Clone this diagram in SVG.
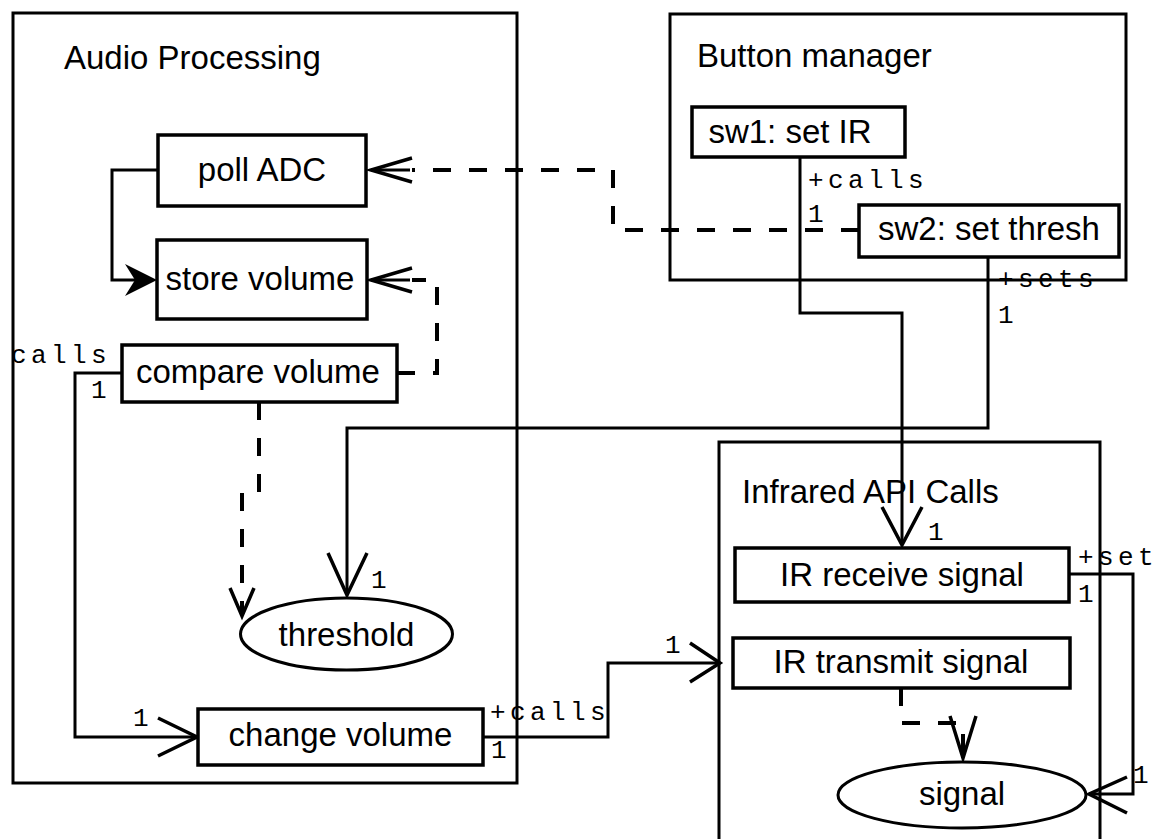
<svg xmlns="http://www.w3.org/2000/svg" width="1167" height="839" viewBox="0 0 1167 839">
<style>
.bg{fill:#fff}
.cont{fill:none;stroke:#000;stroke-width:3}
.node{fill:#fff;stroke:#000;stroke-width:3.5}
.t{font-family:"Liberation Sans",Arial,sans-serif;font-size:33px;fill:#000}
.tm{text-anchor:middle}
.m{font-family:"Liberation Mono","Courier New",monospace;font-size:26px;letter-spacing:4.4px;fill:#000}
.ln{fill:none;stroke:#000;stroke-width:3;stroke-linejoin:miter}
.dl{fill:none;stroke:#000;stroke-width:4;stroke-dasharray:18 18}
.ah{fill:none;stroke:#000;stroke-width:3.5}
</style>
<rect class="bg" x="0" y="0" width="1167" height="839"/>

<g id="audio-processing">
<rect class="cont" x="13" y="13" width="504" height="770"/>
<text class="t" x="64" y="69">Audio Processing</text>
</g>
<g id="button-manager">
<rect class="cont" x="670" y="14" width="456" height="266"/>
<text class="t" x="697" y="67">Button manager</text>
</g>
<g id="infrared-api-calls">
<rect class="cont" x="719" y="442" width="381" height="420"/>
<text class="t" x="742" y="503">Infrared API Calls</text>
</g>

<g id="connectors">
<polyline class="ln" points="158,170 112,170 112,280 150,280"/>
<polygon points="157,280 125,264 135,280 125,296" fill="#000"/>

<polyline class="ln" points="122,373 75,373 75,737 195,737"/>
<polyline class="ah" points="158,718 197,737 158,756"/>

<polyline class="ln" points="483,737 608,737 608,663 718,663"/>
<polyline class="ah" points="690,643 720,663 690,682"/>

<polyline class="ln" points="800,157 800,313 902,313 902,543"/>
<polyline class="ah" points="882,507 902,545 922,507"/>

<polyline class="ln" points="988,257 988,428 347,428 347,593"/>
<polyline class="ah" points="328,553 347,595 367,553"/>

<polyline class="ln" points="1069,574 1133,574 1133,794 1090,794"/>
<polyline class="ah" points="1127,777 1089,794 1127,813"/>

<polyline class="dl" points="859,230 613,230 613,170 412,170"/>
<polyline class="ah" points="412,158 371,170 412,182"/>
<line class="ln" x1="371" y1="170" x2="410" y2="170"/>

<polyline class="dl" points="397,373 437,373 437,280 412,280"/>
<polyline class="ah" points="412,268 371,280 412,292"/>
<line class="ln" x1="371" y1="280" x2="410" y2="280"/>

<polyline class="dl" points="259,402 259,492 242,492 242,612"/>
<polyline class="ah" points="230,588 242,616 254,588"/>

<polyline class="dl" points="901,688 901,723 963,723 963,756"/>
<polyline class="ah" points="950,716 963,758 976,716"/>
</g>

<g id="poll-adc">
<rect class="node" x="158" y="135" width="208" height="71"/>
<text class="t tm" x="262" y="181">poll ADC</text>
</g>
<g id="store-volume">
<rect class="node" x="157" y="240" width="210" height="79"/>
<text class="t tm" x="260" y="290">store volume</text>
</g>
<g id="compare-volume">
<rect class="node" x="122" y="345" width="275" height="57"/>
<text class="t tm" x="258" y="383">compare volume</text>
</g>
<g id="threshold">
<ellipse cx="346.5" cy="634" rx="106" ry="36" fill="#fff" stroke="#000" stroke-width="3"/>
<text class="t tm" x="346.5" y="646">threshold</text>
</g>
<g id="change-volume">
<rect class="node" x="198" y="709" width="285" height="56"/>
<text class="t tm" x="340.5" y="746">change volume</text>
</g>
<g id="sw1-set-ir">
<rect class="node" x="692" y="107" width="213" height="50"/>
<text class="t tm" x="790" y="143">sw1: set IR</text>
</g>
<g id="sw2-set-thresh">
<rect class="node" x="859" y="205" width="260" height="52"/>
<text class="t tm" x="989" y="240">sw2: set thresh</text>
</g>
<g id="ir-receive-signal">
<rect class="node" x="735" y="548" width="334" height="54"/>
<text class="t tm" x="902" y="586">IR receive signal</text>
</g>
<g id="ir-transmit-signal">
<rect class="node" x="733" y="638" width="337" height="50"/>
<text class="t tm" x="901" y="673">IR transmit signal</text>
</g>
<g id="signal">
<ellipse cx="962" cy="795" rx="124" ry="33" fill="#fff" stroke="#000" stroke-width="3"/>
<text class="t tm" x="962" y="805">signal</text>
</g>

<g id="labels">
<text class="m" x="11" y="363">calls</text>
<text class="m" x="91" y="398">1</text>
<text class="m" x="133" y="726">1</text>
<text class="m" x="490" y="720">+calls</text>
<text class="m" x="491" y="758">1</text>
<text class="m" x="665" y="653">1</text>
<text class="m" x="808" y="188">+calls</text>
<text class="m" x="808" y="222">1</text>
<text class="m" x="998" y="287">+sets</text>
<text class="m" x="998" y="323">1</text>
<text class="m" x="371" y="588">1</text>
<text class="m" x="928" y="540">1</text>
<text class="m" x="1078" y="565">+set</text>
<text class="m" x="1078" y="602">1</text>
<text class="m" x="1133" y="783">1</text>
</g>
</svg>
